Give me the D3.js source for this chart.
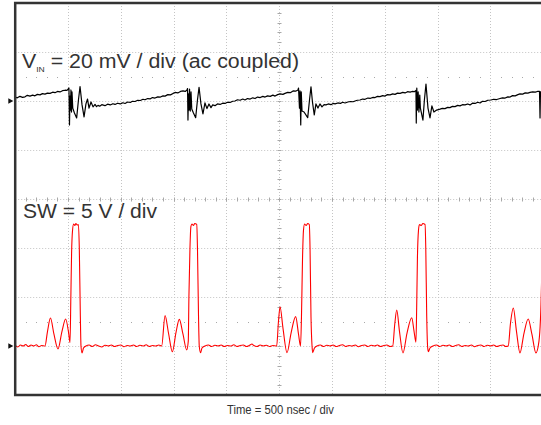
<!DOCTYPE html>
<html>
<head>
<meta charset="utf-8">
<script src="https://cdn.jsdelivr.net/npm/d3@7"></script>
<style>
  html, body { margin: 0; padding: 0; background: #fff; }
  svg { display: block; }
</style>
</head>
<body>
<svg id="chart" width="541" height="425"></svg>
<script>
// ---------- data (time in ns, VIN in mV ac-coupled, SW in V) ----------
const timeDomain = [0, 5000];          // 10 div x 500 ns
const swDomain = [-5, 35];             // 8 div x 5 V, SW ground 1 div above bottom
const vinDomain = [-120, 40];          // 8 div x 20 mV, VIN ground 2 div below top
const timeTicks = [0, 500, 1000, 1500, 2000, 2500, 3000, 3500, 4000, 4500, 5000];
const swTicks = [-5, 0, 5, 10, 15, 20, 25, 30, 35];

const vinLabel = { main: "V", sub: "IN", rest: " = 20 mV / div (ac coupled)" };
const swLabel = "SW = 5 V / div";
const timeLabel = "Time = 500 nsec / div";

const vinTrace = [
  [0,1.6],[20,1.3],[45,1.9],[70,1.5],[93,1.7],[115,2.3],[140,2.0],[165,2.4],[187,2.1],[210,2.7],[235,2.5],[258,3.0],
  [282,2.8],[305,3.2],[330,3.1],[355,3.6],[377,3.4],[400,3.9],[424,3.7],[448,4.2],[472,4.4],[490,4.3],[505,5.1],
  [509,5.3],[514,-9.8],[519,2.0],[523,-3.7],[528,4.5],[533,-4.5],[538,3.7],[545,-2.9],[561,-4.9],[582,-6.9],[599,0.4],
  [614,5.9],[633,-1.6],[652,-6.5],[670,-1.2],[685,0.8],[699,-2.9],[718,-0.4],[737,-2.4],[756,-1.4],[770,-2.3],[784,-1.8],
  [800,-2.1],[820,-1.5],[850,-1.9],[875,-1.3],[900,-1.6],[925,-1.1],[945,-1.4],[970,-0.9],[995,-1.2],[1020,-0.7],
  [1040,-1.0],[1065,-0.4],[1090,-0.6],[1110,-0.1],[1135,-0.2],[1160,0.3],[1185,0.2],[1210,0.7],[1229,0.5],[1255,1.0],
  [1280,0.9],[1300,1.4],[1324,1.2],[1350,1.7],[1375,1.6],[1400,2.1],[1419,2.0],[1445,2.6],[1470,2.5],[1495,3.1],
  [1514,3.5],[1540,3.3],[1565,3.9],[1589,4.1],[1610,3.9],[1627,4.5],
  [1632,5.1],[1636,-7.8],[1641,2.9],[1646,-3.7],[1651,4.9],[1658,-4.1],[1665,3.7],[1672,-3.3],[1688,-4.9],[1709,-6.8],
  [1726,0.4],[1741,5.6],[1759,-1.2],[1778,-5.3],[1797,-0.8],[1816,-3.1],[1835,-1.2],[1854,-2.7],[1870,-1.6],[1892,-1.9],
  [1915,-1.2],[1940,-1.4],[1965,-0.9],[1987,-1.0],[2010,-0.5],[2035,-0.6],[2060,-0.1],[2081,0],[2105,0.5],[2130,0.3],
  [2155,0.8],[2176,0.4],[2200,1.0],[2225,0.8],[2250,1.3],[2271,1.0],[2295,1.6],[2320,1.4],[2345,1.9],[2366,1.6],
  [2390,2.1],[2415,1.9],[2440,2.4],[2461,2.0],[2485,2.6],[2510,2.9],[2535,2.7],[2555,3.1],[2580,3.5],[2605,3.4],
  [2631,4.1],[2655,4.0],[2678,4.5],
  [2683,5.3],[2692,-2.9],[2697,4.1],[2704,-9.8],[2709,3.7],[2716,-4.1],[2735,-4.5],[2770,-6.8],[2787,0.4],[2801,5.8],
  [2815,-0.4],[2832,-5.7],[2848,-1.2],[2867,-2.9],[2886,-1.2],[2905,-2.4],[2925,-1.5],[2943,-1.6],[2965,-1.2],[2990,-1.5],
  [3010,-1.0],[3029,-1.2],[3055,-0.8],[3080,-1.0],[3100,-0.5],[3124,-0.8],[3150,-0.4],[3175,-0.2],[3200,-0.3],[3218,0],
  [3240,0.3],[3265,0.4],[3290,0.8],[3313,0.7],[3340,1.2],[3365,1.1],[3390,1.5],[3408,1.4],[3430,1.9],[3454,1.8],
  [3480,2.2],[3502,2.0],[3525,2.6],[3550,2.5],[3575,2.9],[3597,2.7],[3620,3.2],[3645,3.1],[3670,3.5],[3692,3.3],
  [3715,3.8],[3740,3.6],[3758,3.9],[3780,3.8],[3795,4.3],
  [3798,-9.0],[3803,5.3],[3809,-3.7],[3816,3.7],[3823,-4.5],[3831,2.4],[3837,-2.9],[3861,-7.8],[3875,0.4],[3890,6.9],
  [3909,-2.9],[3928,-6.9],[3946,-2.0],[3965,-4.5],[3991,-3.7],[4023,-3.3],[4045,-3.0],[4070,-3.1],[4095,-2.6],[4117,-2.7],
  [4140,-2.2],[4165,-2.3],[4190,-1.8],[4212,-2.0],[4235,-1.5],[4260,-1.6],[4285,-1.2],[4307,-1.6],[4330,-0.9],[4355,-1.0],
  [4380,-0.5],[4402,-0.8],[4425,-0.1],[4450,-0.2],[4475,0.3],[4506,0.4],[4530,0.7],[4560,0.6],[4591,1.0],[4615,1.3],
  [4640,1.2],[4665,1.7],[4686,1.6],[4710,2.2],[4735,2.1],[4760,2.6],[4780,2.9],[4805,2.8],[4830,3.3],[4855,3.2],
  [4875,3.5],[4900,3.7],[4925,3.6],[4945,3.9],[4965,3.9],[4970,-6.9],[4974,3.7],[4985,4.0],[5000,3.8]
];

const swTrace = [
  [0,0.05],[25,-0.1],[50,0.1],[75,0],[100,0.15],[125,-0.05],[150,0.1],[175,0],[200,0.12],[225,-0.08],[250,0.05],[282,0],
  [306,1.5],[334,2.85],[367,1.2],[405,-0.3],[443,1.5],[478,2.75],[505,1.4],[519,0.35],[527,5],[534,9.5],[543,11.8],
  [553,12.45],[565,12.3],[575,12.5],[587,12.35],[599,12.4],[607,10],[617,3],[623,0],[633,-0.7],[647,-0.2],[670,0],
  [700,0.1],[730,-0.05],[760,0.12],[790,0],[820,-0.1],[850,0.08],[880,0],[910,0.1],[940,-0.05],[970,0.05],[1000,0.1],
  [1030,-0.08],[1060,0.05],[1090,0],[1120,0.1],[1150,-0.05],[1180,0.08],[1210,0],[1240,0.12],[1270,-0.05],[1300,0.05],
  [1330,0],[1360,0.1],[1387,0],
  [1419,3.1],[1452,1.3],[1488,-0.58],[1523,1.4],[1554,2.72],[1589,1.2],[1624,-0.4],[1639,0.5],[1645,5],[1655,10],
  [1664,12.2],[1674,12.45],[1688,12.3],[1700,12.5],[1719,12.4],[1726,10],[1736,3],[1743,0],[1755,-0.68],[1769,-0.2],[1797,0],
  [1830,0.1],[1860,-0.05],[1890,0.08],[1920,0],[1950,0.1],[1980,-0.05],[2010,0.05],[2040,0],[2070,0.12],[2100,-0.05],
  [2130,0.05],[2160,0.1],[2190,-0.05],[2220,0.08],[2242,0.2],[2260,0.05],[2290,-0.05],[2320,0.1],[2350,0],[2380,0.08],
  [2410,-0.05],[2440,0.05],[2476,0],
  [2493,2.5],[2508,4.0],[2536,1.8],[2574,-0.68],[2612,1.3],[2656,3.0],[2683,1.2],[2702,0],[2711,3],[2721,9],[2730,11.8],
  [2740,12.45],[2755,12.3],[2770,12.5],[2785,12.4],[2792,10],[2801,3],[2811,0],[2817,-0.68],[2834,-0.2],[2858,0],
  [2890,0.1],[2920,-0.05],[2950,0.08],[2980,0],[3010,0.1],[3040,-0.05],[3070,0.05],[3100,0.12],[3130,-0.05],[3160,0.05],
  [3190,0],[3220,0.1],[3250,-0.08],[3280,0.05],[3310,0.1],[3340,-0.05],[3370,0.08],[3400,0],[3430,0.1],[3460,-0.05],
  [3490,0.05],[3520,0.1],[3550,-0.05],[3575,0],
  [3594,2.2],[3613,3.67],[3639,1.5],[3672,-0.7],[3710,1.3],[3755,2.88],[3777,1.5],[3795,0.4],[3802,4],[3809,9],
  [3819,11.8],[3828,12.4],[3845,12.3],[3860,12.5],[3881,12.4],[3888,10],[3897,3],[3905,0],[3912,-0.58],[3928,-0.2],[3956,0],
  [3990,0.1],[4020,-0.05],[4050,0.08],[4080,0],[4110,0.1],[4140,-0.05],[4170,0.05],[4200,0.12],[4230,-0.05],[4260,0.05],
  [4290,0],[4320,0.1],[4350,-0.08],[4380,0.05],[4410,0.1],[4440,-0.05],[4470,0.08],[4500,0],[4530,0.1],[4560,-0.05],
  [4590,0.05],[4620,0.1],[4645,-0.05],[4669,0],
  [4690,2.3],[4717,3.88],[4747,1.5],[4780,-0.7],[4818,1.3],[4858,2.76],[4893,1.2],[4931,-0.7],[4960,0.5],[4979,4.2],
  [4988,8],[5000,12]
];

// ---------- layout ----------
const svg = d3.select("#chart");
const plot = { left: 15.2, top: 3, right: 543.2, bottom: 395 };

const x = d3.scaleLinear().domain(timeDomain).range([plot.left, plot.right]);
const ySW = d3.scaleLinear().domain(swDomain).range([plot.bottom, plot.top]);
const yVIN = d3.scaleLinear().domain(vinDomain).range([plot.bottom, plot.top]);

svg.append("rect").attr("width", 541).attr("height", 425).attr("fill", "#fff");

svg.append("defs").append("clipPath").attr("id", "clip")
  .append("rect").attr("x", plot.left).attr("y", plot.top)
  .attr("width", plot.right - plot.left).attr("height", plot.bottom - plot.top);

const grid = svg.append("g");
// vertical grid lines
grid.selectAll("line.v").data(timeTicks.slice(1, -1)).join("line")
  .attr("x1", d => Math.round(x(d)) + 0.5).attr("x2", d => Math.round(x(d)) + 0.5)
  .attr("y1", plot.top).attr("y2", plot.bottom)
  .attr("stroke", "#c4c4c4").attr("stroke-width", 1).attr("stroke-dasharray", "1,2");
// horizontal grid lines
grid.selectAll("line.h").data(swTicks.slice(1, -1)).join("line")
  .attr("y1", d => Math.round(ySW(d)) + 0.5).attr("y2", d => Math.round(ySW(d)) + 0.5)
  .attr("x1", plot.left).attr("x2", plot.right)
  .attr("stroke", "#c4c4c4").attr("stroke-width", 1).attr("stroke-dasharray", "1,2");

// minor ticks on the centre cross
const minorT = d3.range(0, 5001, 100);
const minorV = d3.range(-5, 35.01, 1);
const cx = Math.round(x(2500)) + 0.5, cy = Math.round(ySW(15)) + 0.5;
grid.selectAll("line.mv").data(minorV).join("line")
  .attr("x1", cx - 2).attr("x2", cx + 2)
  .attr("y1", d => Math.round(ySW(d)) + 0.5).attr("y2", d => Math.round(ySW(d)) + 0.5)
  .attr("stroke", "#a8a8a8");
grid.selectAll("line.mh").data(minorT).join("line")
  .attr("y1", cy - 2).attr("y2", cy + 2)
  .attr("x1", d => Math.round(x(d)) + 0.5).attr("x2", d => Math.round(x(d)) + 0.5)
  .attr("stroke", "#a8a8a8");
// sparse dotted rows half a division above each ground
[ySW(27.5), ySW(2.5)].forEach(yy => {
  grid.selectAll(null).data(minorT.slice(1, -1).filter(t => t % 500 !== 0)).join("rect")
    .attr("x", d => Math.round(x(d))).attr("y", Math.round(yy))
    .attr("width", 1).attr("height", 1).attr("fill", "#a8a8a8");
});

// traces
const traces = svg.append("g").attr("clip-path", "url(#clip)");
traces.append("path").datum(vinTrace)
  .attr("d", d3.line().x(d => x(d[0])).y(d => yVIN(d[1])))
  .attr("fill", "none").attr("stroke", "#000").attr("stroke-width", 1.2).attr("stroke-linejoin", "round");
traces.append("path").datum(swTrace)
  .attr("d", d3.line().curve(d3.curveMonotoneX).x(d => x(d[0])).y(d => ySW(d[1])))
  .attr("fill", "none").attr("stroke", "#ff0000").attr("stroke-width", 1.1).attr("stroke-linejoin", "round");

// frame
svg.append("rect")
  .attr("x", plot.left).attr("y", plot.top)
  .attr("width", plot.right - plot.left).attr("height", plot.bottom - plot.top)
  .attr("fill", "none").attr("stroke", "#333").attr("stroke-width", 2.5);

// ground markers
[yVIN(0), ySW(0)].forEach(yy => {
  svg.append("path")
    .attr("d", `M8.3,${yy - 2.8}L13.3,${yy}L8.3,${yy + 2.8}Z`)
    .attr("fill", "#111");
});

// labels
const font = "'Liberation Sans', Arial, Helvetica, sans-serif";
const t1 = svg.append("text").attr("x", 22).attr("y", 68.3)
  .attr("font-family", font).attr("font-size", 20).attr("fill", "#333")
  .attr("textLength", 277).attr("lengthAdjust", "spacingAndGlyphs");
t1.append("tspan").text(vinLabel.main);
t1.append("tspan").attr("font-size", 8).attr("dy", 3.2).text(vinLabel.sub);
t1.append("tspan").attr("dy", -3.2).text(vinLabel.rest);

svg.append("text").attr("x", 23).attr("y", 218.3)
  .attr("font-family", font).attr("font-size", 20).attr("fill", "#333")
  .attr("textLength", 134).attr("lengthAdjust", "spacingAndGlyphs")
  .text(swLabel);

svg.append("text").attr("x", 227).attr("y", 413.5)
  .attr("font-family", "'Liberation Sans Narrow', 'Arial Narrow', 'Liberation Sans', sans-serif")
  .attr("font-size", 12.5).attr("fill", "#333")
  .attr("textLength", 107).attr("lengthAdjust", "spacingAndGlyphs")
  .text(timeLabel);
</script>
</body>
</html>
